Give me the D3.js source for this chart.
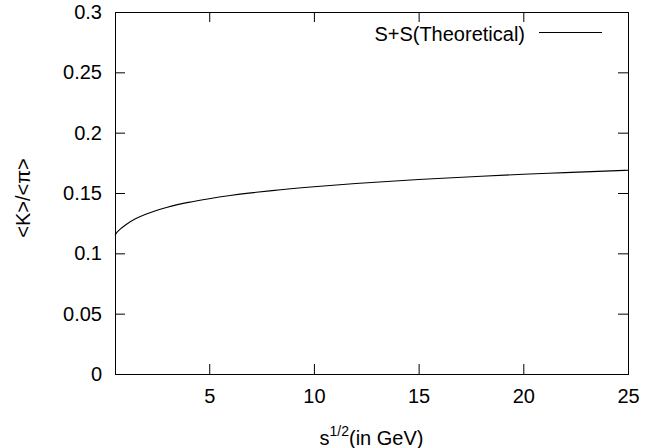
<!DOCTYPE html>
<html>
<head>
<meta charset="utf-8">
<script src="https://cdn.jsdelivr.net/npm/d3@7"></script>
<style>
  body { margin: 0; background: #fff; }
  svg { display: block; font-family: "Liberation Sans", Arial, sans-serif; }
</style>
</head>
<body>
<div id="chart"></div>
<script>
// curve: sqrt(s) in GeV vs <K>/<pi>
var sqrtS = [0.5, 0.6, 0.75, 1, 1.5, 2, 3, 4, 5, 6, 7, 8, 10, 12, 15, 18, 20, 22, 25];
var kPiRatio = [0.115, 0.1175, 0.120, 0.1235, 0.1288, 0.1326, 0.1382, 0.1422, 0.1453, 0.1479, 0.1501,
                0.152, 0.1552, 0.1579, 0.1612, 0.1639, 0.1655, 0.1669, 0.1689];
var xTicks = [5, 10, 15, 20, 25];
var yTicks = [0, 0.05, 0.1, 0.15, 0.2, 0.25, 0.3];
var seriesName = 'S+S(Theoretical)';

var width = 661, height = 448;
var margin = {left: 115, right: 33, top: 12, bottom: 74};

var svg = d3.select('#chart').append('svg')
    .attr('width', width)
    .attr('height', height);

var x = d3.scaleLinear().domain([0.5, 25]).range([margin.left, width - margin.right]);
var y = d3.scaleLinear().domain([0, 0.3]).range([height - margin.bottom, margin.top]);

var fmtY = function (d) { return d === 0 ? '0' : String(+d.toFixed(2)); };

// ticks go inward on all four sides, like gnuplot's mirror
var gx = svg.append('g')
    .attr('transform', 'translate(0,' + y(0) + ')')
    .call(d3.axisBottom(x).tickValues(xTicks).tickSize(-10).tickPadding(15));
var gy = svg.append('g')
    .attr('transform', 'translate(' + x(0.5) + ',0)')
    .call(d3.axisLeft(y).tickValues(yTicks).tickFormat(fmtY).tickSize(-10).tickPadding(13));
var gt = svg.append('g')
    .attr('transform', 'translate(0,' + y(0.3) + ')')
    .call(d3.axisTop(x).tickValues(xTicks).tickFormat('').tickSize(-10));
var gr = svg.append('g')
    .attr('transform', 'translate(' + x(25) + ',0)')
    .call(d3.axisRight(y).tickValues(yTicks).tickFormat('').tickSize(-10));

[gx, gy, gt, gr].forEach(function (g) {
    g.select('.domain').remove();
    g.selectAll('line').attr('stroke', '#000').attr('stroke-width', 1);
    g.selectAll('text')
        .attr('fill', '#000')
        .style('font-size', '20px')
        .style('font-family', '"Liberation Sans", Arial, sans-serif');
});

svg.append('rect')
    .attr('x', x(0.5) + 0.5)
    .attr('y', y(0.3) + 0.5)
    .attr('width', x(25) - x(0.5))
    .attr('height', y(0) - y(0.3))
    .attr('fill', 'none')
    .attr('stroke', '#000')
    .attr('stroke-width', 1);

var line = d3.line()
    .x(function (d) { return x(d[0]); })
    .y(function (d) { return y(d[1]); })
    .curve(d3.curveMonotoneX);

svg.append('path')
    .datum(d3.zip(sqrtS, kPiRatio))
    .attr('d', line)
    .attr('fill', 'none')
    .attr('stroke', '#000')
    .attr('stroke-width', 1.1);

// legend
svg.append('text')
    .attr('x', 525)
    .attr('y', 41)
    .attr('text-anchor', 'end')
    .style('font-size', '20px')
    .text(seriesName);
svg.append('line')
    .attr('x1', 539).attr('x2', 602)
    .attr('y1', 32.5).attr('y2', 32.5)
    .attr('stroke', '#000')
    .attr('stroke-width', 1.1);

// axis titles
var xt = svg.append('text')
    .attr('x', (x(0.5) + x(25)) / 2)
    .attr('y', 445)
    .attr('text-anchor', 'middle')
    .style('font-size', '20px');
xt.append('tspan').text('s');
xt.append('tspan').attr('dy', -9).style('font-size', '14px').text('1/2');
xt.append('tspan').attr('dy', 9).text('(in GeV)');

svg.append('text')
    .attr('transform', 'translate(30,' + 198 + ') rotate(-90)')
    .attr('text-anchor', 'middle')
    .style('font-size', '20px')
    .text('<K>/<\u03c0>');
</script>
</body>
</html>
